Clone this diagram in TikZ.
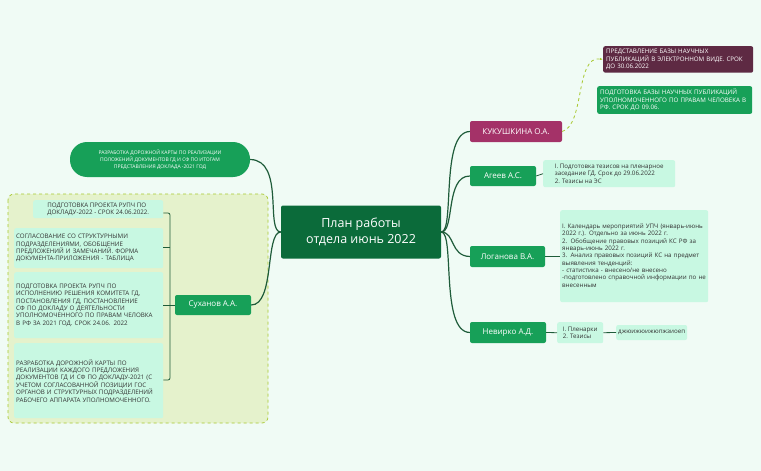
\documentclass[tikz,border=0pt]{standalone}
\usepackage{fontspec}
\setmainfont{Open Sans}
\usetikzlibrary{arrows.meta}
\definecolor{bgc}{HTML}{F0FBF5}
\definecolor{dg}{HTML}{0B6B3A}
\definecolor{mg}{HTML}{17A058}
\definecolor{kuk}{HTML}{A43268}
\definecolor{pur}{HTML}{5E2A43}
\definecolor{notec}{HTML}{C8F8E2}
\definecolor{linec}{HTML}{1F5C3A}
\definecolor{contc}{HTML}{E5F2CC}
\definecolor{dashc}{HTML}{A8C830}
\tikzset{
 br/.style={fill=mg,text=white,rounded corners=2pt,inner sep=0pt,font=\fontsize{8}{9}\selectfont},
 nt/.style={fill=notec,rounded corners=2pt,inner sep=2pt,anchor=north west,align=left,font=\fontsize{6.2}{7.4}\selectfont,text=black!80},
 con/.style={draw=linec,line width=1.2pt},
 thn/.style={draw=linec,line width=0.8pt}
}
\begin{document}
\begin{tikzpicture}[x=1pt,y=-1pt]
\fill[bgc] (0,0) rectangle (761,471);
\useasboundingbox (0,0) rectangle (761,471);
% container
\draw[draw=dashc,dashed,fill=contc,rounded corners=6pt,line width=0.7pt] (8,194) rectangle (268,423);
% center
\node[fill=dg,text=white,rounded corners=2pt,minimum width=160pt,minimum height=53pt,align=center,font=\fontsize{12.5}{16}\selectfont] (c) at (361,232) {План работы\\отдела июнь 2022};
% branches
\node[br,fill=kuk,minimum width=92pt,minimum height=21pt] (k) at (516,131.5) {КУКУШКИНА О.А.};
\node[br,minimum width=66pt,minimum height=20pt] (a) at (503,176) {Агеев А.С.};
\node[br,minimum width=75pt,minimum height=21pt] (l) at (507.5,256.5) {Логанова В.А.};
\node[br,minimum width=76pt,minimum height=21pt] (n) at (508,332.5) {Невирко А.Д.};
\node[br,minimum width=76pt,minimum height=20pt] (s) at (213,305) {Суханов А.А.};
\node[br,rounded corners=17pt,minimum width=180pt,minimum height=35pt,align=center,font=\fontsize{5}{7}\selectfont] (p) at (160,159.5) {РАЗРАБОТКА ДОРОЖНОЙ КАРТЫ ПО РЕАЛИЗАЦИИ\\ПОЛОЖЕНИЙ ДОКУМЕНТОВ ГД И СФ ПО ИТОГАМ\\ПРЕДСТАВЛЕНИЯ ДОКЛАДА -2021 ГОД};
% connectors
\draw[con] (c.east) .. controls (455,232) and (440,132) .. (k.west);
\draw[con] (c.east) .. controls (455,232) and (445,176) .. (a.west);
\draw[con] (c.east) .. controls (455,232) and (450,256) .. (l.west);
\draw[con] (c.east) .. controls (455,232) and (440,332) .. (n.west);
\draw[con] (c.west) .. controls (265,232) and (285,160) .. (p.east);
\draw[con] (c.west) .. controls (265,232) and (275,305) .. (s.east);
% Kukushkina children
\node[br,fill=pur,inner sep=3pt,anchor=north west,align=left,text width=144pt,font=\fontsize{6.2}{7.4}\selectfont] (k1) at (603,46) {ПРЕДСТАВЛЕНИЕ БАЗЫ НАУЧНЫХ ПУБЛИКАЦИЙ В ЭЛЕКТРОННОМ ВИДЕ. СРОК ДО 30.06.2022};
\node[br,inner sep=3pt,anchor=north west,align=left,text width=149pt,font=\fontsize{6.2}{7.4}\selectfont] (k2) at (597,86) {ПОДГОТОВКА БАЗЫ НАУЧНЫХ ПУБЛИКАЦИЙ УПОЛНОМОЧЕННОГО ПО ПРАВАМ ЧЕЛОВЕКА В РФ. СРОК ДО 09.06.};
\draw[draw=dashc,dashed,line width=0.8pt,-{Latex[length=3pt]}] (k.east) .. controls (585,125) and (575,55) .. (k1.west);
% notes
\node[nt,minimum width=132pt,minimum height=27pt] (an) at (543,160) {I. Подготовка тезисов на пленарное\\заседание ГД. Срок до 29.06.2022\\2. Тезисы на ЭС};
\draw[thn] (a.east) -- (an.west);
\node[nt,text width=144pt,minimum height=92pt,anchor=north west] (ln) at (560,210) {I. Календарь мероприятий УПЧ (январь-июнь 2022 г.). Отдельно за июнь 2022 г.\\2. Обобщение правовых позиций КС РФ за январь-июнь 2022 г.\\3. Анализ правовых позиций КС на предмет выявления тенденций:\\- статистика - внесено/не внесено\\-подготовлено справочной информации по не внесенным\vphantom{g}};
\draw[thn] (l.east) -- (l.east -| ln.west);
\node[nt,minimum width=46pt,minimum height=21pt] (nn) at (557,322) {I. Пленарки\\2. Тезисы};
\draw[thn] (n.east) -- (nn.west);
\node[nt,anchor=west,minimum height=15pt] (nx) at (616,332.5) {джюижюижюпжзиоеп};
\draw[thn] (nn.east) -- (nx.west);
% Sukhanov children
\node[nt,minimum width=130pt,minimum height=18pt] (s1) at (33,200) {ПОДГОТОВКА ПРОЕКТА РУПЧ ПО\\ДОКЛАДУ-2022 - СРОК 24.06.2022.};
\node[nt,text width=145pt,minimum height=40pt] (s2) at (14,228) {СОГЛАСОВАНИЕ СО СТРУКТУРНЫМИ ПОДРАЗДЕЛЕНИЯМИ, ОБОБЩЕНИЕ ПРЕДЛОЖЕНИЙ И ЗАМЕЧАНИЙ. ФОРМА ДОКУМЕНТА-ПРИЛОЖЕНИЯ - ТАБЛИЦА};
\node[nt,text width=145pt,minimum height=66pt] (s3) at (14,272) {ПОДГОТОВКА ПРОЕКТА РУПЧ ПО ИСПОЛНЕНИЮ РЕШЕНИЯ КОМИТЕТА ГД, ПОСТАНОВЛЕНИЯ ГД, ПОСТАНОВЛЕНИЕ СФ ПО ДОКЛАДУ О ДЕЯТЕЛЬНОСТИ УПОЛНОМОЧЕННОГО ПО ПРАВАМ ЧЕЛОВКА В РФ ЗА 2021 ГОД. СРОК 24.06. 2022};
\node[nt,text width=145pt,minimum height=75pt] (s4) at (14,343) {РАЗРАБОТКА ДОРОЖНОЙ КАРТЫ ПО РЕАЛИЗАЦИИ КАЖДОГО ПРЕДЛОЖЕНИЯ ДОКУМЕНТОВ ГД И СФ ПО ДОКЛАДУ-2021 (С УЧЕТОМ СОГЛАСОВАННОЙ ПОЗИЦИИ ГОС ОРГАНОВ И СТРУКТУРНЫХ ПОДРАЗДЕЛЕНИЙ РАБОЧЕГО АППАРАТА УПОЛНОМОЧЕННОГО.};
\coordinate (bt) at (170,213);
\coordinate (bb) at (170,380);
\draw[thn,rounded corners=2pt] (s1.east |- bt) -- (bt) -- (bb) -- (s4.east |- bb);
\coordinate (b2) at (170,247);
\coordinate (b3) at (170,305);
\draw[thn] (b2) -- (s2.east |- b2);
\draw[thn] (b3) -- (s3.east |- b3);
\draw[thn] (s.west) -- (b3);
\end{tikzpicture}
\end{document}
